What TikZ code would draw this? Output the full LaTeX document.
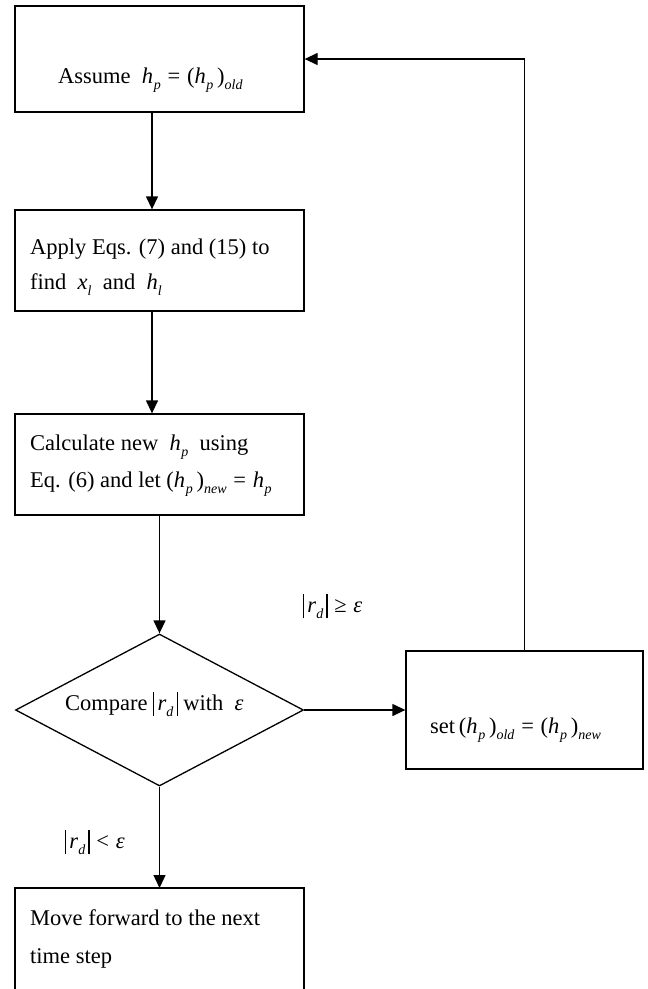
\documentclass[tikz,border=0pt]{standalone}
\usepackage{fontspec}
\setmainfont{Liberation Serif}
\usetikzlibrary{arrows.meta,shapes.geometric}
\newcommand\sbs[1]{\raisebox{-0.3em}{\fontsize{14}{14}\selectfont\textit{#1}}}
\newcommand\hpp{\textit{h}\kern0.03em\sbs{p}}
\newcommand\absb{\vrule height 0.82em depth 0.28em width 0.05em}
\newcommand\rdabs{\absb\kern0.14em\textit{r}\sbs{d}\kern0.14em\absb}
\newcommand\reln[1]{\kern0.3em#1\kern0.3em}
\begin{document}
\begin{tikzpicture}[x=1pt,y=-1pt,
  every node/.style={font=\fontsize{22.5}{27}\selectfont},
  box/.style={draw,rectangle,line width=1.3pt,inner sep=0pt},
  txt/.style={anchor=base west,inner sep=0pt},
  arr/.style={line width=1.3pt,-{Triangle[length=13pt,width=12pt]}},
  ln/.style={line width=1.3pt}]
\useasboundingbox (0,0) rectangle (648,989);
% boxes
\node[box,minimum width=289pt,minimum height=106pt] (b1) at (159.5,59) {};
\node[box,minimum width=289pt,minimum height=101pt] (b2) at (159.5,260.5) {};
\node[box,minimum width=289pt,minimum height=101pt] (b3) at (159.5,464.5) {};
\node[draw,diamond,line width=1.3pt,inner sep=0pt,minimum width=288pt,minimum height=152pt,aspect=1.9] (dia) at (159.5,710) {};
\node[box,minimum width=237pt,minimum height=118pt] (b5) at (524.5,710) {};
\coordinate (b4tl) at (15,888);
\coordinate (b4tr) at (304,888);
\coordinate (b4top) at (159.5,888);
\draw[ln] (15,989) -- (b4tl) -- (b4tr) -- (304,989);
% texts
\node[txt] (t1) at (58,83) {Assume~~\hpp\reln{=}(\hpp\,)\sbs{old}};
\node[txt] (t2a) at (30,254) {Apply Eqs. (7) and (15) to};
\node[txt] (t2b) at (30,289) {find~~\textit{x}\sbs{l}~~and~~\textit{h}\sbs{l}};
\node[txt] (t3a) at (30,450) {Calculate new~~\hpp~~using};
\node[txt] (t3b) at (30,487) {Eq. (6) and let (\hpp\,)\sbs{new}\reln{=}\hpp};
\node[txt] (t4) at (65,710) {Compare \rdabs{} with~~\textit{ε}};
\node[txt] (t5) at (430,733) {set\,(\hpp\,)\sbs{old}\reln{=}(\hpp\,)\sbs{new}};
\node[txt] (t6a) at (30,925) {Move forward to the next};
\node[txt] (t6b) at (30,963) {time step};
\node[txt] (l1) at (65,848) {\rdabs\reln{<}\textit{ε}};
\node[txt] (l2) at (303,612) {\rdabs\reln{≥}\textit{ε}};
% connectors
\draw[arr] ([xshift=-7.5pt]b1.south) -- ([xshift=-7.5pt]b2.north);
\draw[arr] ([xshift=-7.5pt]b2.south) -- ([xshift=-7.5pt]b3.north);
\draw[arr] (b3.south) -- (dia.north);
\draw[arr] (dia.south) -- (b4top);
\draw[arr] (dia.east) -- (b5.west);
\draw[arr] (b5.north) |- (b1.east);
\end{tikzpicture}
\end{document}
